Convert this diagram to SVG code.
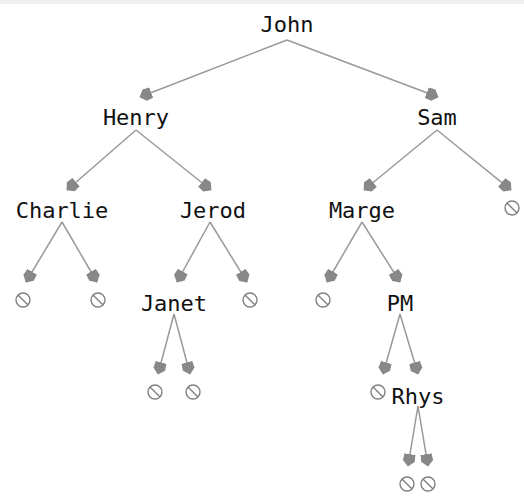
<svg xmlns="http://www.w3.org/2000/svg" width="524" height="496" viewBox="0 0 524 496">
<defs>
<style>
text{font-family:"DejaVu Sans Mono","Liberation Mono",monospace;font-size:22px;fill:#111;text-anchor:middle}
.e{stroke:#999;stroke-width:1.5;fill:none;marker-end:url(#ah)}
</style>
<marker id="ah" viewBox="0 0 13 13" refX="12" refY="6.5" markerWidth="13" markerHeight="13" markerUnits="userSpaceOnUse" orient="auto">
<path d="M0,1 L7,0.5 L12.5,6.5 L7,12.5 L0,12 z" fill="#888"/>
</marker>
<g id="null"><circle cx="0" cy="0" r="7" fill="#fff" stroke="#808080" stroke-width="1.4"/><line x1="-4.8" y1="-4.8" x2="4.8" y2="4.8" stroke="#808080" stroke-width="1.4"/></g>
</defs>
<rect x="0" y="0" width="524" height="496" fill="#fff"/>
<rect x="0" y="0" width="524" height="4" fill="#f0f0f0"/>
<g id="connectors">
<line class="e" x1="287" y1="40" x2="140" y2="97"/>
<line class="e" x1="287" y1="40" x2="438" y2="97"/>
<line class="e" x1="136" y1="130" x2="67" y2="190"/>
<line class="e" x1="136" y1="130" x2="211" y2="190"/>
<line class="e" x1="437" y1="130" x2="364" y2="190"/>
<line class="e" x1="437" y1="130" x2="511" y2="190"/>
<line class="e" x1="62" y1="222" x2="26" y2="282"/>
<line class="e" x1="62" y1="222" x2="97" y2="282"/>
<line class="e" x1="210" y1="222" x2="177" y2="282"/>
<line class="e" x1="210" y1="222" x2="247" y2="282"/>
<line class="e" x1="362" y1="222" x2="327" y2="282"/>
<line class="e" x1="362" y1="222" x2="400" y2="282"/>
<line class="e" x1="174" y1="314" x2="158" y2="374"/>
<line class="e" x1="174" y1="314" x2="190" y2="374"/>
<line class="e" x1="400" y1="314" x2="383" y2="374"/>
<line class="e" x1="400" y1="314" x2="418" y2="374"/>
<line class="e" x1="418" y1="406" x2="408" y2="466"/>
<line class="e" x1="418" y1="406" x2="428" y2="466"/>
</g>
<g id="n-john"><text x="287" y="32">John</text></g>
<g id="n-henry"><text x="136" y="125">Henry</text></g>
<g id="n-sam"><text x="437" y="125">Sam</text></g>
<g id="n-charlie"><text x="62" y="218">Charlie</text></g>
<g id="n-jerod"><text x="213" y="218">Jerod</text></g>
<g id="n-marge"><text x="362" y="218">Marge</text></g>
<g id="n-null-sam"><use href="#null" x="512" y="208"/></g>
<g id="n-null-c1"><use href="#null" x="23" y="300"/></g>
<g id="n-null-c2"><use href="#null" x="98" y="300"/></g>
<g id="n-janet"><text x="174" y="311">Janet</text></g>
<g id="n-null-j"><use href="#null" x="250" y="300"/></g>
<g id="n-null-m"><use href="#null" x="323" y="300"/></g>
<g id="n-pm"><text x="400" y="311">PM</text></g>
<g id="n-null-ja1"><use href="#null" x="155" y="392"/></g>
<g id="n-null-ja2"><use href="#null" x="193" y="392"/></g>
<g id="n-null-pm"><use href="#null" x="378" y="392"/></g>
<g id="n-rhys"><text x="418" y="404">Rhys</text></g>
<g id="n-null-r1"><use href="#null" x="407" y="484"/></g>
<g id="n-null-r2"><use href="#null" x="428" y="484"/></g>
</svg>
